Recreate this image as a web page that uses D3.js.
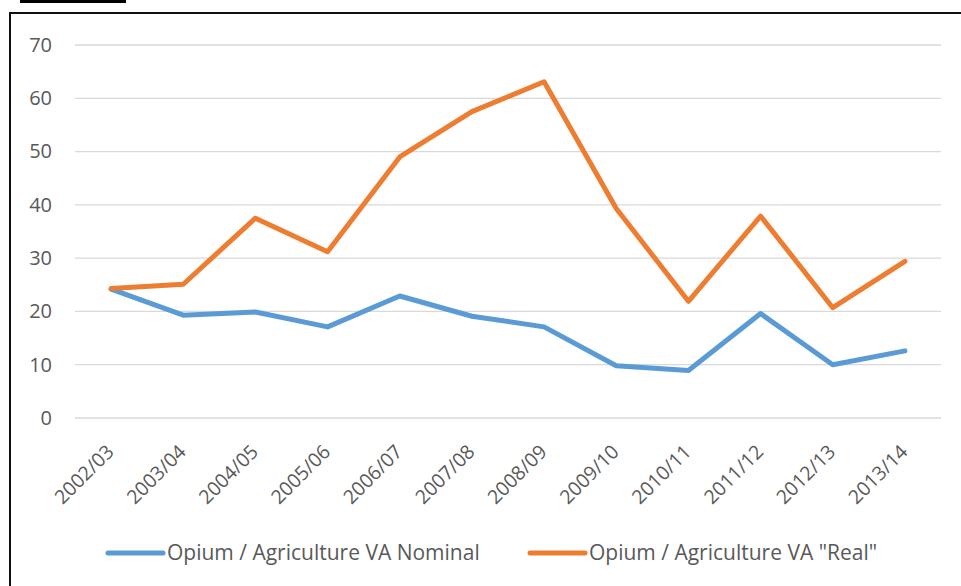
<!DOCTYPE html>
<html>
<head>
<meta charset="utf-8">
<script src="https://cdn.jsdelivr.net/npm/d3@7/dist/d3.min.js"></script>
<style>
  html, body { margin: 0; padding: 0; background: #fff; }
  svg { display: block; }
  text { font-family: "Open Sans", "Liberation Sans", sans-serif; fill: #595959; }
</style>
</head>
<body>
<svg id="chart" width="961" height="586"></svg>
<script>
// Fiscal years on the category axis
const years = ["2002/03", "2003/04", "2004/05", "2005/06", "2006/07", "2007/08",
               "2008/09", "2009/10", "2010/11", "2011/12", "2012/13", "2013/14"];

// Opium value as a share of agricultural value added (%)
const nominal = [24.2, 19.3, 19.9, 17.1, 22.9, 19.1, 17.1, 9.8, 8.9, 19.6, 10.0, 12.6];
const real    = [24.3, 25.1, 37.5, 31.2, 49.0, 57.5, 63.1, 39.3, 21.9, 37.9, 20.7, 29.4];

const yTicks = [0, 10, 20, 30, 40, 50, 60, 70];

const seriesNames = ["Opium / Agriculture VA Nominal", "Opium / Agriculture VA \"Real\""];
const seriesColors = ["#5B9BD5", "#ED7D31"];

const svg = d3.select("#chart");

// Frame around the chart area and the heading underline above it
svg.append("rect").attr("x", 20).attr("y", 0).attr("width", 106).attr("height", 3).attr("fill", "#000");
svg.append("path")
  .attr("d", "M10,600 L10,13 L980,13")
  .attr("fill", "none").attr("stroke", "#111").attr("stroke-width", 2);

const plot = { left: 75, right: 941, top: 45, bottom: 418 };

const x = d3.scaleBand().domain(years).range([plot.left, plot.right]);
const y = d3.scaleLinear().domain([0, 70]).range([plot.bottom, plot.top]);

// Horizontal gridlines
svg.append("g").selectAll("line").data(yTicks).join("line")
  .attr("x1", plot.left).attr("x2", plot.right)
  .attr("y1", d => y(d)).attr("y2", d => y(d))
  .attr("stroke", "#d9d9d9").attr("stroke-width", 1.3);

// Y axis labels
const yAxis = d3.axisLeft(y).tickValues(yTicks).tickSize(0).tickPadding(0);
svg.append("g").attr("transform", `translate(${plot.left - 23},0)`).call(yAxis)
  .call(g => g.select(".domain").remove())
  .selectAll("text")
  .style("font-size", "20px").attr("fill", "#595959").attr("font-family", "\"Open Sans\", sans-serif");

// X axis labels, rotated
const xAxis = d3.axisBottom(x).tickSize(0).tickPadding(0);
svg.append("g").attr("transform", `translate(0,${plot.bottom})`).call(xAxis)
  .call(g => g.select(".domain").remove())
  .selectAll("text")
  .style("font-size", "19.5px").attr("fill", "#595959").attr("font-family", "\"Open Sans\", sans-serif")
  .attr("text-anchor", "end")
  .attr("dy", null).attr("y", 0)
  .attr("transform", "translate(4,35) rotate(-45)");

// Series lines
const line = d3.line()
  .x((d, i) => x(years[i]) + x.bandwidth() / 2)
  .y(d => y(d));

[nominal, real].forEach((vals, k) => {
  svg.append("path")
    .datum(vals)
    .attr("d", line)
    .attr("fill", "none")
    .attr("stroke", seriesColors[k])
    .attr("stroke-width", 5)
    .attr("stroke-linejoin", "round")
    .attr("stroke-linecap", "round");
});

// Legend
const legendX = [108, 530];
const legendY = 553;
seriesNames.forEach((name, k) => {
  const g = svg.append("g").attr("transform", `translate(${legendX[k]},${legendY})`);
  g.append("line").attr("x1", 0).attr("x2", 55).attr("y1", 0).attr("y2", 0)
    .attr("stroke", seriesColors[k]).attr("stroke-width", 5).attr("stroke-linecap", "round");
  g.append("text").attr("x", 59).attr("y", 7)
    .style("font-size", "21px").text(name);
});
</script>
</body>
</html>
